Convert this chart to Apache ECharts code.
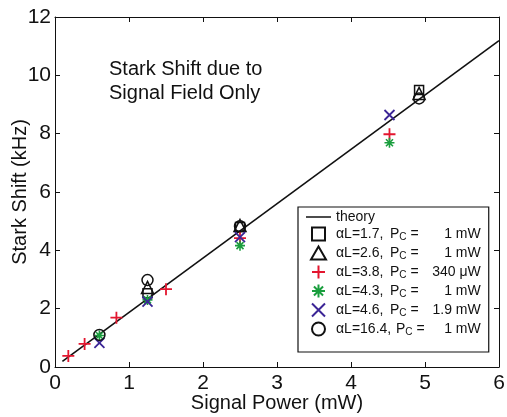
<!DOCTYPE html>
<html><head><meta charset="utf-8">
<script src="https://cdn.jsdelivr.net/npm/echarts@6/dist/echarts.min.js"></script>
<style>html,body{margin:0;padding:0;background:#fff}#c{width:507px;height:417px}</style>
</head><body><div id="c"></div>
<script>
// ---- data ----
const xTicks = [0,1,2,3,4,5,6];
const yTicks = [0,2,4,6,8,10,12];
const theoryX = [0.1, 6];
const theoryY = [0.19, 11.19];
const sqX = [1.25, 2.5, 4.92];   const sqY = [2.53, 4.8, 9.5];
const trX = [1.25, 2.5, 4.92];   const trY = [2.73, 4.85, 9.38];
const plX = [0.18, 0.4, 0.83, 1.5, 2.5, 4.52]; const plY = [0.38, 0.79, 1.69, 2.67, 4.42, 7.98];
const stX = [0.6, 1.25, 2.5, 4.52]; const stY = [1.08, 2.3, 4.16, 7.69];
const xxX = [0.6, 1.25, 2.5, 4.52]; const xxY = [0.83, 2.24, 4.45, 8.64];
const ciX = [0.6, 1.25, 2.5, 4.92]; const ciY = [1.1, 2.98, 4.83, 9.21];
const seriesNames = ['theory','s1','s2','s3','s4','s5','s6'];
const legendAL = ['', 'αL=1.7,', 'αL=2.6,', 'αL=3.8,', 'αL=4.3,', 'αL=4.6,', 'αL=16.4,'];
const legendVal = ['', '1 mW', '1 mW', '340 μW', '1 mW', '1.9 mW', '1 mW'];

const zip = (a,b) => a.map((v,i)=>[v,b[i]]);
const RED='#e3162f', GREEN='#1a9e3e', PURPLE='#3b2596', BLACK='#111';
const plusPath = 'path://M0,5L10,5M5,0L5,10';
const xPath = 'path://M0,0L10,10M10,0L0,10';
const starPath = 'path://M0,5L10,5M5,0L5,10M1.5,1.5L8.5,8.5M8.5,1.5L1.5,8.5';
const sqPath = 'path://M0,0L10,0L10,10L0,10Z';
const triPath = 'path://M6,0L12,10.4L0,10.4Z';
const linePath = 'path://M0,0L25,0L25,1.5L0,1.5Z';

const chart = echarts.init(document.getElementById('c'), null, {renderer:'canvas'});
const FONT = 'Liberation Sans, Arial, Helvetica, sans-serif';
const axisCommon = {
  axisLine:{show:true,onZero:false,lineStyle:{color:BLACK,width:1}},
  axisTick:{show:true,inside:true,length:5,lineStyle:{color:BLACK}},
  splitLine:{show:false}
};
function scat(name, xs, ys, symbol, size, color, bw){
  return {name, type:'scatter', xAxisIndex:0, yAxisIndex:0, data:zip(xs,ys), symbol, symbolSize:size,
    itemStyle:{color:'none', borderColor:color, borderWidth:bw, opacity:1}, z:3};
}
const legendIcons = [linePath, sqPath, triPath, plusPath, starPath, xPath, 'circle'];
chart.setOption({
  animation:false,
  backgroundColor:'#fff',
  grid:{left:55, right:8, top:17, bottom:50, containLabel:false, outerBoundsMode:'none'},
  xAxis:[
    Object.assign({type:'value', min:0, max:6, interval:1, position:'bottom',
      name:'Signal Power (mW)', nameLocation:'middle', nameGap:26, nameMoveOverlap:false,
      nameTextStyle:{fontFamily:FONT, fontSize:20, color:BLACK},
      axisLabel:{fontFamily:FONT, fontSize:21, color:BLACK, margin:6}}, axisCommon),
    Object.assign({type:'value', min:0, max:6, interval:1, position:'top', axisLabel:{show:false}}, axisCommon)
  ],
  yAxis:[
    Object.assign({type:'value', min:0, max:12, interval:2, position:'left',
      name:'Stark Shift (kHz)', nameLocation:'middle', nameGap:25, nameMoveOverlap:false,
      nameTextStyle:{fontFamily:FONT, fontSize:20, color:BLACK},
      axisLabel:{fontFamily:FONT, fontSize:21, color:BLACK, margin:4}}, axisCommon),
    Object.assign({type:'value', min:0, max:12, interval:2, position:'right', axisLabel:{show:false}}, axisCommon)
  ],
  legend:{
    orient:'vertical', left:298, top:207,
    data:seriesNames.map((n,i)=>({name:n, icon:legendIcons[i]})),
    backgroundColor:'#fff', borderColor:BLACK, borderWidth:1.2, padding:[3,8,14,8],
    itemWidth:25, itemHeight:13, itemGap:1, itemTextGap:9,
    formatter:function(name){
      const i = seriesNames.indexOf(name);
      if(i===0) return '{th|theory}';
      const long = legendAL[i].length > 7;
      return '{'+(long?'b':'a')+'|'+legendAL[i]+'}{p|P}{s|C}{e|=}{'+(long?'w':'v')+'|'+legendVal[i]+'}';
    },
    textStyle:{fontFamily:FONT, fontSize:14, color:BLACK,
      rich:{
        th:{fontFamily:FONT, fontSize:14, color:BLACK},
        a:{fontFamily:FONT, fontSize:14, color:BLACK, width:49, padding:[0,5,0,0]},
        b:{fontFamily:FONT, fontSize:14, color:BLACK, width:57, padding:[0,3,0,0]},
        p:{fontFamily:FONT, fontSize:14, color:BLACK},
        s:{fontFamily:FONT, fontSize:10, color:BLACK, padding:[7,0,0,0]},
        e:{fontFamily:FONT, fontSize:14, color:BLACK, padding:[0,0,0,4]},
        v:{fontFamily:FONT, fontSize:14, color:BLACK, width:62, align:'right'},
        w:{fontFamily:FONT, fontSize:14, color:BLACK, width:56, align:'right'}
      }}
  },
  graphic:[{type:'text', left:109, top:58, style:{text:'Stark Shift due to\nSignal Field Only',
    fontFamily:FONT, fontSize:20, lineHeight:23.5, fill:BLACK}}],
  series:[
    {name:'theory', type:'line', data:zip(theoryX,theoryY), symbol:'none', lineStyle:{color:BLACK,width:1.6},
      itemStyle:{color:BLACK}, z:2},
    scat('s1', sqX, sqY, sqPath, 9, BLACK, 1.5),
    scat('s2', trX, trY, triPath, 12, BLACK, 1.5),
    scat('s3', plX, plY, plusPath, 12, RED, 1.8),
    scat('s4', stX, stY, starPath, 10, GREEN, 1.6),
    scat('s5', xxX, xxY, xPath, 10, PURPLE, 1.8),
    scat('s6', ciX, ciY, 'circle', 11, BLACK, 1.5)
  ]
});
</script></body></html>
